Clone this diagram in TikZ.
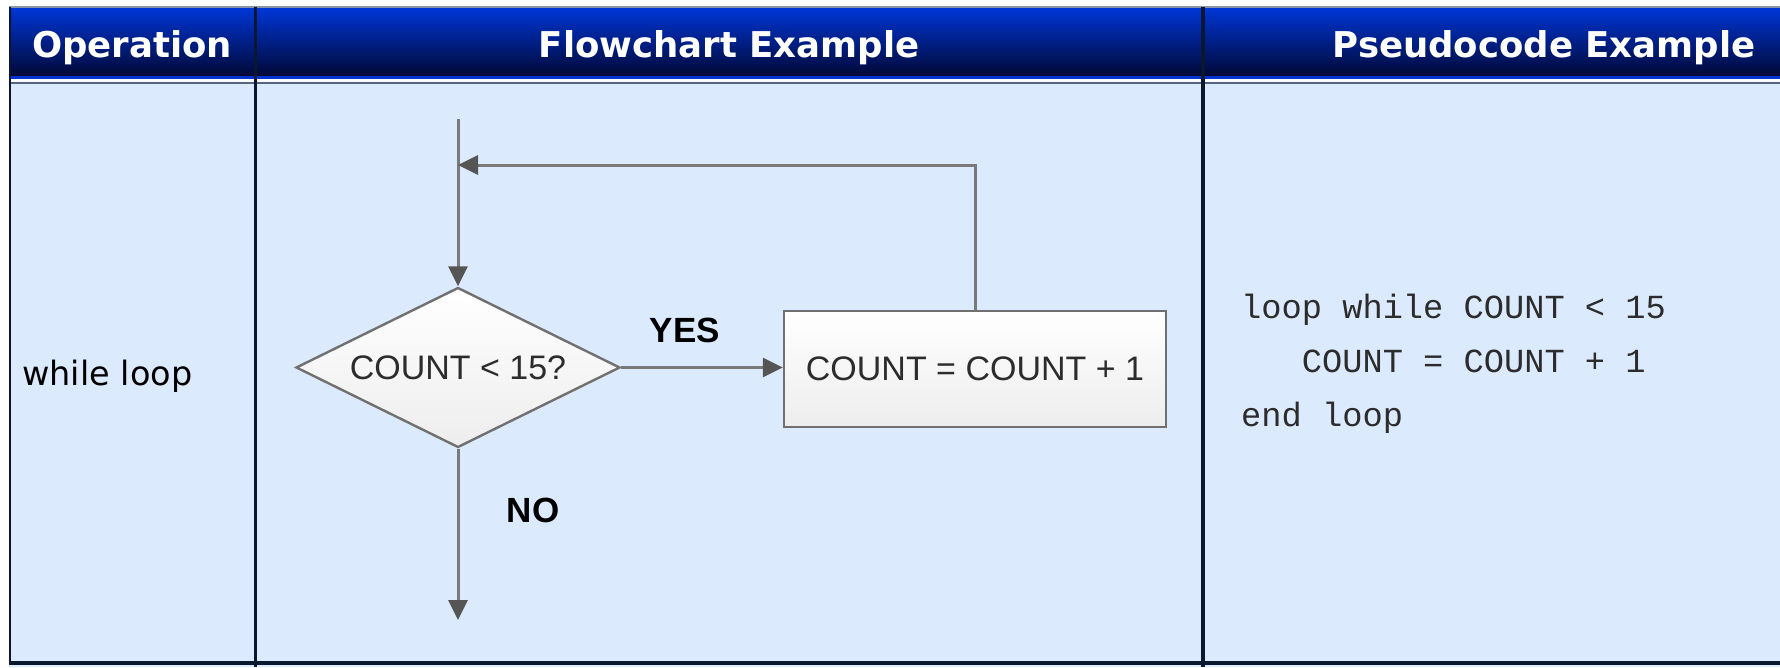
\documentclass[tikz,border=0pt]{standalone}
\usepackage{fontspec}
\usetikzlibrary{arrows.meta,shapes.geometric}
\newfontfamily\headfont{DejaVu Sans}
\newfontfamily\flowfont{Liberation Sans}
\newfontfamily\codefont{Liberation Mono}
\definecolor{headtop}{HTML}{0036D6}
\definecolor{headbot}{HTML}{000836}
\definecolor{headstripe}{HTML}{0033D0}
\definecolor{bodyblue}{HTML}{DCEAFD}
\definecolor{rule}{HTML}{0B1630}
\definecolor{greyrule}{HTML}{56667E}
\definecolor{flowgray}{HTML}{7A7A7A}
\definecolor{tipgray}{HTML}{555555}
\definecolor{shapegray}{HTML}{707070}
\definecolor{txt}{HTML}{2C2C2C}
\begin{document}
\begin{tikzpicture}[x=1pt,y=-1pt,
  headtext/.style={text=white, font=\headfont\bfseries\fontsize{35.5}{42}\selectfont, anchor=base, inner sep=0pt},
  flowline/.style={draw=flowgray, line width=3pt, -{Triangle[length=20pt,width=19pt,color=tipgray]}},
  plainline/.style={draw=flowgray, line width=3pt},
  flowshape/.style={draw=shapegray, line width=2.4pt, top color=white, bottom color=black!7,
     text=txt, font=\flowfont\fontsize{34}{40}\selectfont, inner sep=0pt},
  label/.style={text=black, font=\flowfont\bfseries\fontsize{35}{40}\selectfont, inner sep=0pt},
  codeline/.style={text=txt, font=\codefont\fontsize{33.7}{40}\selectfont, anchor=base west, inner sep=0pt},
  cell/.style={text=black, font=\headfont\fontsize{33.5}{40}\selectfont, anchor=west, inner sep=0pt}]
\useasboundingbox (0,0) rectangle (1780,667);
% table background
\fill[white] (0,0) rectangle (1780,667);
\fill[bodyblue] (9,79) rectangle (1780,667);
\shade[top color=headtop, bottom color=headbot] (9,8) rectangle (1780,76);
\fill[headstripe] (9,76) rectangle (1780,79);
\fill[white!85!bodyblue] (9,79) rectangle (1780,81.5);
\fill[greyrule] (9,81.5) rectangle (1780,83.5);
\draw[greyrule!70, line width=1.4pt] (9,7) -- (1780,7);
\draw[rule, line width=2pt] (9.5,7) -- (9.5,664);
\draw[rule, line width=3.5pt] (255.5,7) -- (255.5,667);
\draw[rule, line width=3.5pt] (1203,7) -- (1203,667);
\draw[rule, line width=3.8pt] (9,663) -- (1780,663);
% header
\node[headtext] (h1) at (132,57) {Operation};
\node[headtext] (h2) at (729,57) {Flowchart Example};
\node[headtext] (h3) at (1544,57) {Pseudocode Example};
% operation
\node[cell] (op) at (22,376) {while loop};
% flowchart
\node[flowshape, diamond, aspect=2, minimum width=324pt, minimum height=160pt] (dec) at (458,367.5) {COUNT < 15?};
\node[flowshape, rectangle, minimum width=382pt, minimum height=116pt] (inc) at (975,369) {COUNT = COUNT + 1};
\coordinate (top) at (458,119);
\coordinate (loopin) at (458,165);
\coordinate (noend) at (458,620);
\draw[plainline] (top) -- (loopin);
\draw[flowline] (loopin) -- (dec.north);
\draw[flowline] (inc.north) |- (loopin);
\draw[flowline] (dec.east) -- (dec.east -| inc.west);
\draw[flowline] (dec.south) -- (noend);
\node[label] (yes) at (685,330) {YES};
\node[label] (no) at (533,510) {NO};
% pseudocode
\node[codeline] (p1) at (1241,318) {loop while COUNT < 15};
\node[codeline] (p2) at (1241,372) {\phantom{xxx}COUNT = COUNT + 1};
\node[codeline] (p3) at (1241,426) {end loop};
\end{tikzpicture}
\end{document}
